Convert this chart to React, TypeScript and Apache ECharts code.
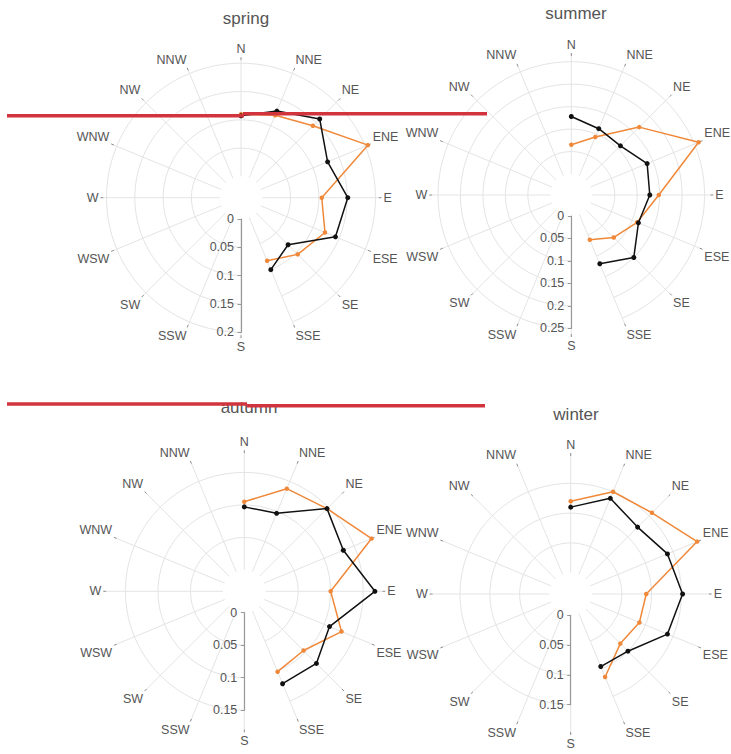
import React, { useEffect, useRef } from 'react';
import * as echarts from 'echarts';

// Compass directions, clockwise starting from S (radial axis drawn toward S)
const directions = ['S', 'SSW', 'SW', 'WSW', 'W', 'WNW', 'NW', 'NNW', 'N', 'NNE', 'NE', 'ENE', 'E', 'ESE', 'SE', 'SSE'];
// Directions that carry data
const seriesDirections = ['N', 'NNE', 'NE', 'ENE', 'E', 'ESE', 'SE', 'SSE'];

const seasons = ['spring', 'summer', 'autumn', 'winter'];

const springBlack = [0.107, 0.128, 0.159, 0.128, 0.151, 0.143, 0.080, 0.100];
const springOrange = [0.110, 0.120, 0.142, 0.205, 0.105, 0.123, 0.104, 0.083];
const summerBlack = [0.128, 0.113, 0.108, 0.136, 0.128, 0.115, 0.150, 0.119];
const summerOrange = [0.065, 0.093, 0.167, 0.260, 0.148, 0.112, 0.087, 0.061];
const autumnBlack = [0.097, 0.097, 0.147, 0.132, 0.168, 0.109, 0.124, 0.121];
const autumnOrange = [0.105, 0.138, 0.147, 0.179, 0.100, 0.129, 0.096, 0.101];
const winterBlack = [0.110, 0.138, 0.123, 0.140, 0.152, 0.140, 0.100, 0.096];
const winterOrange = [0.120, 0.150, 0.157, 0.194, 0.091, 0.089, 0.082, 0.115];

const blackValues = [springBlack, summerBlack, autumnBlack, winterBlack];
const orangeValues = [springOrange, summerOrange, autumnOrange, winterOrange];

// Last labelled radial tick per season
const radialTickMax = [0.2, 0.25, 0.15, 0.15];
const radialInterval = 0.05;

// Layout (pixels) of each panel
const panels = [
  { center: [241, 197.7], inner: 21.3, outer: 137.5, tickOuter: 134.5, titleX: 241, titleY: 5 },
  { center: [571.3, 195], inner: 21, outer: 139, tickOuter: 133.3, titleX: 571, titleY: 0 },
  { center: [244.3, 591.3], inner: 21.3, outer: 138, tickOuter: 118.9, titleX: 244, titleY: 394 },
  { center: [570.7, 594], inner: 21.3, outer: 138, tickOuter: 110.7, titleX: 571, titleY: 401 },
];
// Radius (pixels) of the unclipped polar that carries the series
const SERIES_OUTER = 170;

const BLACK = '#111111';
const ORANGE = '#f0883a';
const LABEL = '#555555';
const GRID = '#e4e4e4';
const FONT = '"Liberation Sans", Arial, sans-serif';
const RED = '#d1343c';

function hiddenAngleAxis(polarIndex: number) {
  return {
    polarIndex,
    type: 'category',
    data: directions,
    startAngle: -90,
    clockwise: true,
    boundaryGap: false,
    axisLine: { show: false },
    axisTick: { show: false },
    axisLabel: { show: false },
    splitLine: { show: false },
  };
}

function buildOption() {
  const polar: any[] = [];
  const angleAxis: any[] = [];
  const radiusAxis: any[] = [];
  const series: any[] = [];
  const title: any[] = [];

  panels.forEach((p, i) => {
    const base = 3 * i;
    const scaleIdx = 3 * i + 1;
    const seriesIdx = 3 * i + 2;
    // spokes + compass labels
    polar.push({ center: p.center, radius: [p.inner, p.outer] });
    angleAxis.push({
      polarIndex: base,
      type: 'category',
      data: directions,
      startAngle: -90,
      clockwise: true,
      boundaryGap: false,
      axisLine: { show: false },
      axisTick: { show: true, length: 3, lineStyle: { color: '#8a8a8a', width: 1 } },
      axisLabel: { color: LABEL, fontSize: 12.5, margin: 5, fontFamily: FONT },
      splitLine: { show: true, lineStyle: { color: GRID, width: 1 } },
    });
    radiusAxis.push({ polarIndex: base, type: 'value', min: 0, max: 1, show: false });

    // radial scale: circles, axis line, ticks and labels
    polar.push({ center: p.center, radius: [p.inner, p.tickOuter] });
    angleAxis.push(hiddenAngleAxis(scaleIdx));
    radiusAxis.push({
      polarIndex: scaleIdx,
      type: 'value',
      min: 0,
      max: radialTickMax[i],
      interval: radialInterval,
      axisLine: { show: true, lineStyle: { color: '#999999', width: 1.2 } },
      axisTick: { show: true, length: -3.5, lineStyle: { color: '#999999' } },
      axisLabel: {
        color: LABEL,
        fontSize: 12.5,
        margin: -7,
        align: 'right',
        verticalAlign: 'middle',
        fontFamily: FONT,
      },
      splitLine: {
        show: true,
        lineStyle: { color: ['rgba(0,0,0,0)', GRID, GRID, GRID, GRID, GRID, GRID, GRID], width: 1 },
      },
    });

    // same scale, larger radius so that no line is clipped
    const seriesMax = (radialTickMax[i] * (SERIES_OUTER - p.inner)) / (p.tickOuter - p.inner);
    polar.push({ center: p.center, radius: [p.inner, SERIES_OUTER] });
    angleAxis.push(hiddenAngleAxis(seriesIdx));
    radiusAxis.push({ polarIndex: seriesIdx, type: 'value', min: 0, max: seriesMax, show: false });

    const mk = (name: string, vals: number[], color: string, size: number) => ({
      name,
      type: 'line',
      coordinateSystem: 'polar',
      polarIndex: seriesIdx,
      data: seriesDirections.map((d, k) => [vals[k], d]),
      symbol: 'circle',
      symbolSize: size,
      lineStyle: { color, width: 1.5 },
      itemStyle: { color },
      z: color === BLACK ? 4 : 3,
    });
    series.push(mk(seasons[i] + ' orange', orangeValues[i], ORANGE, 4.5));
    series.push(mk(seasons[i] + ' black', blackValues[i], BLACK, 5));

    title.push({
      text: seasons[i],
      left: p.titleX,
      top: p.titleY,
      textAlign: 'center',
      textStyle: { color: LABEL, fontSize: 17, fontWeight: 'normal', fontFamily: FONT },
    });
  });

  const graphic = [
    { type: 'rect', shape: { x: 7, y: 114, width: 237, height: 3.5 }, style: { fill: RED }, z: 100 },
    { type: 'rect', shape: { x: 243, y: 112, width: 244, height: 3.5 }, style: { fill: RED }, z: 100 },
    { type: 'rect', shape: { x: 7, y: 402.3, width: 240, height: 3.5 }, style: { fill: RED }, z: 100 },
    { type: 'rect', shape: { x: 246.7, y: 404, width: 238.3, height: 3.5 }, style: { fill: RED }, z: 100 },
  ];

  return {
    animation: false,
    backgroundColor: '#ffffff',
    textStyle: { fontFamily: FONT },
    title,
    polar,
    angleAxis,
    radiusAxis,
    series,
    graphic,
  };
}

export default function App() {
  const ref = useRef<HTMLDivElement>(null);
  useEffect(() => {
    if (!ref.current) return;
    const chart = echarts.init(ref.current, undefined, { renderer: 'svg' });
    chart.setOption(buildOption() as any);
    return () => chart.dispose();
  }, []);
  return (
    <div
      ref={ref}
      style={{ position: 'absolute', left: 0, top: 0, width: 731, height: 754, background: '#fff' }}
    />
  );
}
